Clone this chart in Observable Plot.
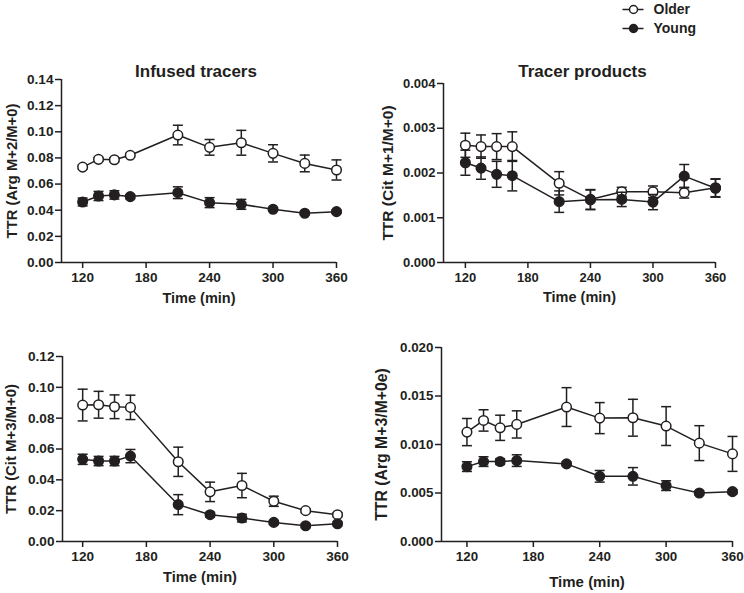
<!DOCTYPE html>
<html><head><meta charset="utf-8">
<script src="https://cdn.jsdelivr.net/npm/d3@7"></script>
<script src="https://cdn.jsdelivr.net/npm/@observablehq/plot@0.6"></script>
<style>
body{margin:0;background:#fff;font-family:"Liberation Sans",Arial,sans-serif;}
#wrap{position:relative;width:744px;height:593px;overflow:hidden;}
</style></head><body><div id="wrap"></div>
<script>
const times = [120,135,150,165,210,240,270,300,330,360];
const xTicks = [120,180,240,300,360];
const seriesNames = ["Older","Young"];

// Infused tracers: Arg M+2/M+0
const argM2Older = [0.0730,0.0789,0.0786,0.0820,0.0975,0.0881,0.0916,0.0835,0.0758,0.0708];
const argM2OlderSem = [0.0015,0.0015,0.0015,0.0015,0.0075,0.0060,0.0095,0.0066,0.0064,0.0077];
const argM2Young = [0.0463,0.0509,0.0517,0.0504,0.0534,0.0458,0.0445,0.0407,0.0377,0.0389];
const argM2YoungSem = [0.0030,0.0035,0.0032,0.0015,0.0045,0.0038,0.0038,0.0012,0.0012,0.0012];
const argM2Ticks = [0,0.02,0.04,0.06,0.08,0.10,0.12,0.14];

// Tracer products: Cit M+1/M+0
const citM1Older = [0.00262,0.00259,0.00259,0.00259,0.00177,0.00141,0.00158,0.00158,0.00156,0.00167];
const citM1OlderSem = [0.00027,0.00026,0.00029,0.00033,0.00026,0.00022,0.00010,0.00013,0.00012,0.00020];
const citM1Young = [0.00223,0.00211,0.00197,0.00194,0.00136,0.00140,0.00141,0.00135,0.00193,0.00166];
const citM1YoungSem = [0.00028,0.00025,0.00029,0.00034,0.00024,0.00022,0.00016,0.00017,0.00026,0.00020];
const citM1Ticks = [0,0.001,0.002,0.003,0.004];

// Cit M+3/M+0
const citM3Older = [0.0885,0.0887,0.0874,0.0870,0.0517,0.0322,0.0363,0.0261,0.0200,0.0174];
const citM3OlderSem = [0.0103,0.0087,0.0077,0.0079,0.0095,0.0063,0.0079,0.0033,0.0012,0.0012];
const citM3Young = [0.0533,0.0522,0.0522,0.0554,0.0239,0.0174,0.0152,0.0124,0.0102,0.0115];
const citM3YoungSem = [0.0033,0.0030,0.0030,0.0043,0.0065,0.0015,0.0025,0.0012,0.0012,0.0012];
const citM3Ticks = [0,0.02,0.04,0.06,0.08,0.10,0.12];

// Arg M+3/M+0e
const argM3Older = [0.01128,0.01248,0.01172,0.01207,0.01386,0.01272,0.01276,0.01190,0.01014,0.00903];
const argM3OlderSem = [0.0014,0.0011,0.0013,0.0014,0.0020,0.0016,0.0019,0.0020,0.0018,0.0018];
const argM3Young = [0.00772,0.00824,0.00824,0.00834,0.00800,0.00672,0.00672,0.00576,0.00500,0.00514];
const argM3YoungSem = [0.0005,0.0005,0.0003,0.0006,0.0002,0.0006,0.0009,0.0005,0.0002,0.0002];
const argM3Ticks = [0,0.005,0.010,0.015,0.020];

const INK = "#231f20";
const FONT = "Liberation Sans, Arial, sans-serif";

function rows(name, vals, sems) {
  return times.map((t, i) => ({t, g: name, v: vals[i], lo: vals[i] - sems[i], hi: vals[i] + sems[i]}));
}

const capSymbol = {draw(ctx) { ctx.moveTo(-5, 0); ctx.lineTo(5, 0); }};

const panels = [
  {older: argM2Older, olderSem: argM2OlderSem, young: argM2Young, youngSem: argM2YoungSem, ticks: argM2Ticks, fmt: "0.00",
   ylabel: "TTR (Arg M+2/M+0)", title: "Infused tracers",
   left: 0, top: 60, width: 370, height: 250, mL: 61, mR: 34, mT: 19, mB: 48, x0: 100, tickSize: 13.6,
   ylDx: -49, ylSize: 14.8, xlDy: 36, xlSize: 14.5, tDy: -8, tDx: -3},
  {older: citM1Older, olderSem: citM1OlderSem, young: citM1Young, youngSem: citM1YoungSem, ticks: citM1Ticks, fmt: "0.000",
   ylabel: "TTR (Cit M+1/M+0)", title: "Tracer products",
   left: 370, top: 60, width: 374, height: 250, mL: 73, mR: 29, mT: 23, mB: 48, x0: 99, tickSize: 13,
   ylDx: -55, ylSize: 15.5, xlDy: 35, xlSize: 14.5, tDy: -12, tDx: 3},
  {older: citM3Older, olderSem: citM3OlderSem, young: citM3Young, youngSem: citM3YoungSem, ticks: citM3Ticks, fmt: "0.00",
   ylabel: "TTR (Cit M+3/M+0)", title: null,
   left: 0, top: 330, width: 370, height: 263, mL: 62, mR: 33, mT: 26, mB: 52, x0: 101, tickSize: 13.6,
   ylDx: -51, ylSize: 14.9, xlDy: 36, xlSize: 14.7},
  {older: argM3Older, olderSem: argM3OlderSem, young: argM3Young, youngSem: argM3YoungSem, ticks: argM3Ticks, fmt: "0.000",
   ylabel: "TTR (Arg M+3/M+0e)", title: null,
   left: 370, top: 330, width: 374, height: 263, mL: 71, mR: 12, mT: 17, mB: 52, x0: 97, tickSize: 13.4,
   ylDx: -60, ylSize: 15.8, xlDy: 41, xlSize: 15}
];

const wrap = document.getElementById("wrap");

for (const p of panels) {
  const older = rows(seriesNames[0], p.older, p.olderSem);
  const young = rows(seriesNames[1], p.young, p.youngSem);
  const f = d3.format("." + (p.fmt.length - 2) + "f");
  const ymax = p.ticks[p.ticks.length - 1];
  const marks = [
    Plot.ruleY([0], {stroke: INK, strokeWidth: 1.5}),
    Plot.ruleX([p.x0], {stroke: INK, strokeWidth: 1.5}),
    Plot.axisX({ticks: xTicks, tickSize: 6, tickPadding: 4, tickFormat: d => String(d), label: null,
      fontSize: p.tickSize, fontWeight: "bold", stroke: INK, fill: INK, strokeWidth: 1.5}),
    Plot.axisY({ticks: p.ticks, tickSize: 6, tickPadding: 2, tickFormat: f, label: null,
      fontSize: p.tickSize, fontWeight: "bold", stroke: INK, fill: INK, strokeWidth: 1.5}),
    // older
    Plot.ruleX(older, {x: "t", y1: "lo", y2: "hi", stroke: INK, strokeWidth: 1.5}),
    Plot.dot(older, {x: "t", y: "hi", symbol: capSymbol, fill: "none", stroke: INK, strokeWidth: 1.5}),
    Plot.dot(older, {x: "t", y: "lo", symbol: capSymbol, fill: "none", stroke: INK, strokeWidth: 1.5}),
    Plot.line(older, {x: "t", y: "v", stroke: INK, strokeWidth: 1.5}),
    Plot.dot(older, {x: "t", y: "v", r: 4.8, fill: "white", stroke: INK, strokeWidth: 1.5}),
    // young
    Plot.ruleX(young, {x: "t", y1: "lo", y2: "hi", stroke: INK, strokeWidth: 1.5}),
    Plot.dot(young, {x: "t", y: "hi", symbol: capSymbol, fill: "none", stroke: INK, strokeWidth: 1.5}),
    Plot.dot(young, {x: "t", y: "lo", symbol: capSymbol, fill: "none", stroke: INK, strokeWidth: 1.5}),
    Plot.line(young, {x: "t", y: "v", stroke: INK, strokeWidth: 1.5}),
    Plot.dot(young, {x: "t", y: "v", r: 4.8, fill: INK, stroke: INK, strokeWidth: 1.5}),
    // labels
    Plot.text([p.ylabel], {frameAnchor: "left", rotate: -90, dx: p.ylDx, text: d => d,
      textAnchor: "middle", lineAnchor: "middle",
      fontSize: p.ylSize, fontWeight: "bold", fill: INK}),
    Plot.text(["Time (min)"], {frameAnchor: "bottom", dy: p.xlDy, text: d => d,
      textAnchor: "middle", lineAnchor: "middle",
      fontSize: p.xlSize, fontWeight: "bold", fill: INK})
  ];
  if (p.title) marks.push(Plot.text([p.title], {frameAnchor: "top", dy: p.tDy, dx: p.tDx, text: d => d,
      textAnchor: "middle", lineAnchor: "middle",
      fontSize: 17, fontWeight: "bold", fill: INK}));
  const svg = Plot.plot({
    width: p.width, height: p.height,
    marginLeft: p.mL, marginRight: p.mR, marginTop: p.mT, marginBottom: p.mB,
    x: {domain: [p.x0, 360]},
    y: {domain: [0, ymax]},
    style: {fontFamily: FONT, color: INK, background: "transparent", overflow: "visible"},
    marks
  });
  svg.style.position = "absolute";
  svg.style.left = p.left + "px";
  svg.style.top = p.top + "px";
  wrap.appendChild(svg);
}

// legend
const legendData = seriesNames.map((name, i) => ({name, i}));
const leg = Plot.plot({
  width: 110, height: 38, marginLeft: 0, marginRight: 0, marginTop: 0, marginBottom: 0,
  x: {domain: [0, 110]}, y: {domain: [0, 38]},
  axis: null,
  style: {fontFamily: FONT, color: INK, background: "transparent", overflow: "visible"},
  marks: [
    Plot.link(legendData, {x1: () => 4, x2: () => 25, y1: d => 29 - d.i * 19, y2: d => 29 - d.i * 19, stroke: INK, strokeWidth: 1.5}),
    Plot.dot(legendData, {x: () => 15, y: d => 29 - d.i * 19, r: 4, fill: d => d.i === 0 ? "white" : INK, stroke: INK, strokeWidth: 1.5}),
    Plot.text(legendData, {x: () => 35, y: d => 29 - d.i * 19, text: "name", textAnchor: "start", fontSize: 14, fontWeight: "bold", fill: INK})
  ]
});
leg.style.position = "absolute";
leg.style.left = "618px";
leg.style.top = "0px";
wrap.appendChild(leg);
</script></body></html>
